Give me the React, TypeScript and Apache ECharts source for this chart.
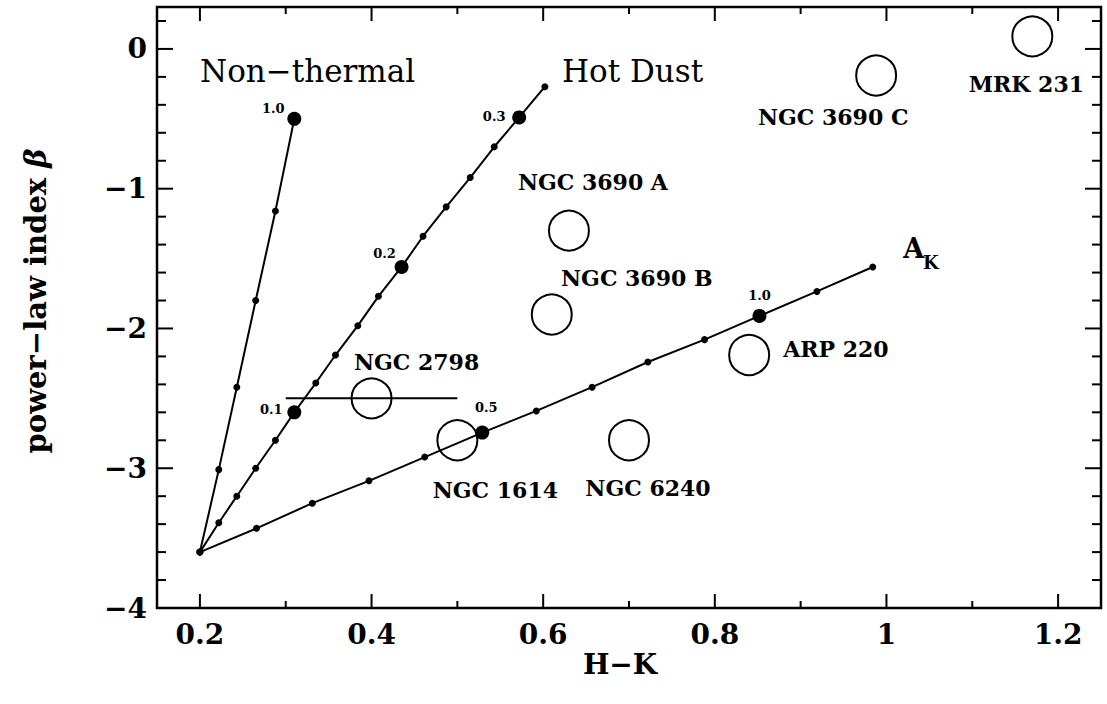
import { useEffect, useRef } from "react";
import * as echarts from "echarts";

// Model tracks in the (H-K, beta) plane, all starting from the stellar point.
const nonThermal: [number, number][] = [
  [0.2, -3.6], [0.222, -3.01], [0.243, -2.42], [0.265, -1.8], [0.288, -1.16], [0.31, -0.5],
];
const hotDust: [number, number][] = [
  [0.2, -3.6], [0.222, -3.39], [0.243, -3.2], [0.265, -3.0], [0.288, -2.8], [0.31, -2.6],
  [0.335, -2.39], [0.358, -2.19], [0.384, -1.98], [0.408, -1.77], [0.435, -1.56],
  [0.46, -1.34], [0.487, -1.13], [0.515, -0.92], [0.543, -0.7], [0.572, -0.49], [0.602, -0.27],
];
const extinction: [number, number][] = [
  [0.2, -3.6], [0.266, -3.43], [0.331, -3.25], [0.397, -3.09], [0.462, -2.92], [0.529, -2.745],
  [0.592, -2.59], [0.657, -2.42], [0.722, -2.24], [0.788, -2.08], [0.852, -1.91],
  [0.919, -1.735], [0.984, -1.56],
];

// Annotated steps along the tracks.
const stepPoints: [number, number][] = [
  [0.31, -0.5], [0.31, -2.6], [0.435, -1.56], [0.572, -0.49], [0.529, -2.745], [0.852, -1.91],
];
const stepTexts = ["1.0", "0.1", "0.2", "0.3", "0.5", "1.0"];

// Galaxies.
const galaxyNames = [
  "NGC 3690 A", "NGC 3690 B", "NGC 3690 C", "MRK 231",
  "NGC 2798", "NGC 1614", "NGC 6240", "ARP 220",
];
const galaxyHK = [0.63, 0.61, 0.988, 1.17, 0.4, 0.5, 0.7, 0.84];
const galaxyBeta = [-1.3, -1.9, -0.19, 0.09, -2.5, -2.8, -2.8, -2.19];
const ngc2798Range = [0.3, 0.5];

// Axis ticks.
const hkMajor = [0.2, 0.4, 0.6, 0.8, 1, 1.2];
const hkMinor = [0.3, 0.5, 0.7, 0.9, 1.1];
const betaMajor = [-4, -3, -2, -1, 0];
const betaMinor = [
  -3.8, -3.6, -3.4, -3.2, -2.8, -2.6, -2.4, -2.2, -1.8, -1.6, -1.4, -1.2,
  -0.8, -0.6, -0.4, -0.2, 0.2,
];

const SERIF = "'DejaVu Serif', 'Liberation Serif', serif";

// Label placement, relative to the mark centre.
const stepOffsets: [number, number][] = [
  [-21, -10], [-23, -3], [-17, -13], [-25, -1], [4, -25], [0, -20],
];
const galaxyLabelStyle: { offset: [number, number]; align: string }[] = [
  { offset: [24, -49], align: "center" },
  { offset: [85, -36], align: "center" },
  { offset: [-43, 42], align: "center" },
  { offset: [-6, 48], align: "center" },
  { offset: [45, -36], align: "center" },
  { offset: [38, 50], align: "center" },
  { offset: [19, 48], align: "center" },
  { offset: [34, -6], align: "left" },
];

const X_MIN = 0.15;
const X_MAX = 1.25;
const Y_MIN = -4;
const Y_MAX = 0.3;

export default function App() {
  const ref = useRef<HTMLDivElement>(null);

  useEffect(() => {
    if (!ref.current) return;
    const chart = echarts.init(ref.current, undefined, { renderer: "svg" });

    const minus = (v: number) => String(v).replace("-", "\u2212");
    const labelFont = { color: "#000", fontFamily: SERIF, fontWeight: "bold", fontSize: 28, formatter: minus };

    // Inward ticks on both opposite sides of the frame, placed through the axis scales.
    const tickSeries = (name: string, values: number[], horizontal: boolean, len: number) => ({
      name,
      type: "custom",
      silent: true,
      z: 6,
      data: values.map((v) => (horizontal ? [v, Y_MIN] : [X_MIN, v])),
      renderItem: (params: any, api: any) => {
        const cs = params.coordSys;
        const p = api.coord([api.value(0), api.value(1)]);
        const style = { stroke: "#000", lineWidth: 2 };
        if (horizontal) {
          const x = p[0];
          const b = cs.y + cs.height;
          return {
            type: "group",
            children: [
              { type: "line", shape: { x1: x, y1: b, x2: x, y2: b - len }, style },
              { type: "line", shape: { x1: x, y1: cs.y, x2: x, y2: cs.y + len }, style },
            ],
          };
        }
        const y = p[1];
        const r = cs.x + cs.width;
        return {
          type: "group",
          children: [
            { type: "line", shape: { x1: cs.x, y1: y, x2: cs.x + len, y2: y }, style },
            { type: "line", shape: { x1: r, y1: y, x2: r - len, y2: y }, style },
          ],
        };
      },
    });

    const track = (name: string, pts: [number, number][]) => ({
      name,
      type: "line",
      data: pts,
      symbol: "circle",
      symbolSize: 7,
      showSymbol: true,
      itemStyle: { color: "#000", opacity: 1 },
      lineStyle: { color: "#000", width: 2 },
      z: 3,
    });

    const end = extinction[extinction.length - 1];

    chart.setOption({
      animation: false,
      backgroundColor: "#fff",
      grid: {
        left: 157, top: 7, width: 944, height: 601,
        outerBoundsMode: "none", containLabel: false,
        show: true, borderColor: "#000", borderWidth: 2.5, backgroundColor: "transparent",
      },
      xAxis: {
        type: "value",
        min: X_MIN,
        max: X_MAX,
        axisLine: { show: false, onZero: false },
        splitLine: { show: false },
        axisTick: { show: false },
        axisLabel: { show: true, customValues: hkMajor, margin: 12, ...labelFont },
      },
      yAxis: {
        type: "value",
        min: Y_MIN,
        max: Y_MAX,
        axisLine: { show: false, onZero: false },
        splitLine: { show: false },
        axisTick: { show: false },
        axisLabel: { show: true, customValues: betaMajor, margin: 10, ...labelFont },
      },
      series: [
        tickSeries("hk major ticks", hkMajor, true, 14),
        tickSeries("hk minor ticks", hkMinor, true, 7),
        tickSeries("beta major ticks", betaMajor, false, 16),
        tickSeries("beta minor ticks", betaMinor, false, 9),
        track("Non-thermal", nonThermal),
        track("Hot Dust", hotDust),
        track("A_K", extinction),
        {
          name: "steps",
          type: "scatter",
          symbol: "circle",
          symbolSize: 14,
          itemStyle: { color: "#000", opacity: 1 },
          z: 4,
          data: stepPoints.map((p, i) => ({
            value: p,
            label: {
              show: true,
              position: "inside",
              offset: stepOffsets[i],
              formatter: stepTexts[i],
              color: "#000",
              fontFamily: SERIF,
              fontWeight: "bold",
              fontSize: 13,
              align: "center",
              verticalAlign: "middle",
            },
          })),
        },
        {
          name: "NGC 2798 range",
          type: "line",
          data: ngc2798Range.map((x) => [x, galaxyBeta[4]]),
          symbol: "none",
          lineStyle: { color: "#000", width: 2 },
          z: 2,
        },
        {
          name: "galaxies",
          type: "scatter",
          symbol: "circle",
          symbolSize: 40,
          itemStyle: { color: "rgba(0,0,0,0)", borderColor: "#000", borderWidth: 2, opacity: 1 },
          z: 5,
          data: galaxyNames.map((n, i) => ({
            name: n,
            value: [galaxyHK[i], galaxyBeta[i]],
            label: {
              show: true,
              position: "inside",
              offset: galaxyLabelStyle[i].offset,
              align: galaxyLabelStyle[i].align,
              verticalAlign: "middle",
              formatter: n,
              color: "#000",
              fontFamily: SERIF,
              fontWeight: "bold",
              fontSize: 22,
            },
          })),
        },
        {
          name: "A_K label",
          type: "scatter",
          symbolSize: 0,
          itemStyle: { opacity: 1 },
          z: 5,
          data: [
            {
              value: end,
              label: { show: true, position: "inside", offset: [41, -18], formatter: "A", color: "#000", fontFamily: SERIF, fontWeight: "bold", fontSize: 27, align: "center", verticalAlign: "middle" },
            },
            {
              value: end,
              label: { show: true, position: "inside", offset: [58, -4], formatter: "K", color: "#000", fontFamily: SERIF, fontWeight: "bold", fontSize: 18, align: "center", verticalAlign: "middle" },
            },
          ],
        },
      ],
      graphic: [
        {
          type: "text",
          x: 200,
          y: 71,
          style: { text: "Non\u2212thermal", font: `31px ${SERIF}`, fill: "#000", textAlign: "left", textVerticalAlign: "middle" },
        },
        {
          type: "text",
          x: 562,
          y: 71,
          style: { text: "Hot Dust", font: `31px ${SERIF}`, fill: "#000", textAlign: "left", textVerticalAlign: "middle" },
        },
        {
          type: "text",
          x: 620,
          y: 664,
          style: { text: "H\u2212K", font: `bold 28px ${SERIF}`, fill: "#000", textAlign: "center", textVerticalAlign: "middle" },
        },
        {
          type: "text",
          x: 36,
          y: 301,
          rotation: Math.PI / 2,
          style: {
            text: "power\u2212law index {b|\u03b2}",
            font: `bold 29px ${SERIF}`,
            fill: "#000",
            textAlign: "center",
            textVerticalAlign: "middle",
            rich: { b: { fontStyle: "italic", fontWeight: "bold", fontSize: 29, fontFamily: SERIF } },
          },
        },
      ],
    });

    return () => chart.dispose();
  }, []);

  return (
    <div
      ref={ref}
      style={{ position: "absolute", left: 0, top: 0, width: 1107, height: 704, background: "#fff" }}
    />
  );
}
